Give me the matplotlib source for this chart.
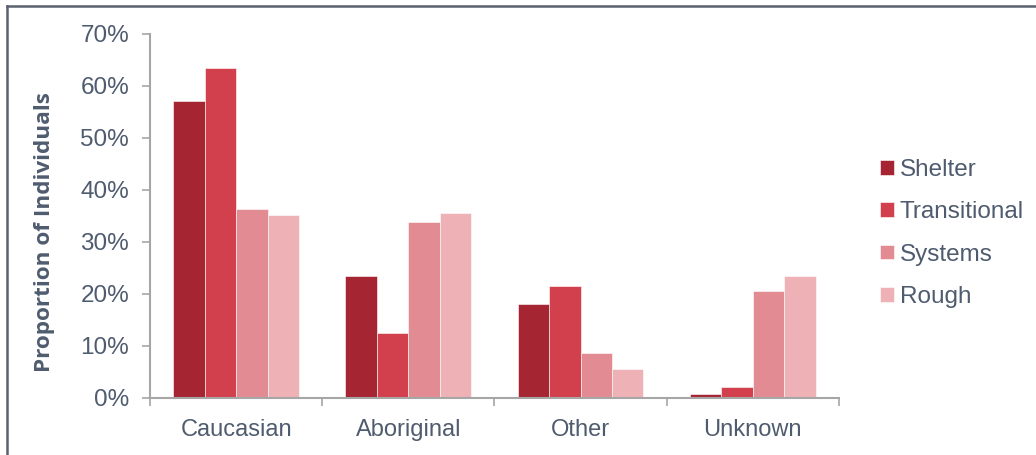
import numpy as np
import matplotlib
matplotlib.use("Agg")
import matplotlib.pyplot as plt
from matplotlib.lines import Line2D
from matplotlib.ticker import FuncFormatter

categories = ["Caucasian", "Aboriginal", "Other", "Unknown"]
series = ["Shelter", "Transitional", "Systems", "Rough"]
shelter = [57.1, 23.5, 18.0, 0.8]
transitional = [63.5, 12.4, 21.5, 2.0]
systems = [36.3, 33.9, 8.7, 20.5]
rough = [35.1, 35.6, 5.5, 23.5]
colors = ["#A52532", "#D2404D", "#E38B92", "#EDB1B6"]

text_color = "#4F5B6E"
axis_color = "#A6A6A6"

plt.rcParams["font.family"] = ["Liberation Sans", "DejaVu Sans"]

fig = plt.figure(figsize=(10.36, 4.55), dpi=100)
ax = fig.add_axes([0.1448, 0.1259, 0.8098 - 0.1448, 0.9253 - 0.1259])

x = np.arange(len(categories))
width = 0.73 / 4
values = [shelter, transitional, systems, rough]
for i, (name, vals) in enumerate(zip(series, values)):
    ax.bar(x + (i - 1.5) * width, vals, width, color=colors[i], label=name,
           edgecolor="white", linewidth=0.4)

ax.set_xlim(-0.5, 3.5)
ax.set_ylim(0, 70)
ax.set_yticks(np.arange(0, 71, 10))
ax.yaxis.set_major_formatter(FuncFormatter(lambda v, p: f"{v:.0f}%"))

# category labels in the middle, ticks at the group boundaries
ax.set_xticks(np.arange(-0.5, 3.6, 1.0))
ax.set_xticklabels([])
ax.set_xticks(x, minor=True)
ax.set_xticklabels(categories, minor=True)
ax.tick_params(axis="x", which="minor", length=0, pad=15,
               labelsize=17, labelcolor=text_color)
ax.tick_params(axis="x", which="major", length=6, width=1.2, color=axis_color,
               direction="out")
ax.tick_params(axis="y", length=6, width=1.2, color=axis_color, pad=9,
               labelsize=17.5, labelcolor=text_color)

for side in ["top", "right"]:
    ax.spines[side].set_visible(False)
for side in ["left", "bottom"]:
    ax.spines[side].set_color(axis_color)
    ax.spines[side].set_linewidth(1.5)

fig.text(0.0425, 0.491, "Proportion of Individuals", rotation=90,
         ha="center", va="center", fontsize=16.2, fontweight="bold",
         color=text_color, family=["Open Sans", "DejaVu Sans"])

fig.legend(loc="center left", bbox_to_anchor=(0.8285, 0.487), frameon=False,
           fontsize=17.5, handlelength=0.55, handleheight=0.55,
           handletextpad=0.25, labelspacing=0.84, labelcolor=text_color)

# screenshot frame (top and left edges only)
fig.add_artist(Line2D([0.0068, 1.0], [0.9879, 0.9879], color="#5A6170",
                      linewidth=1.8, transform=fig.transFigure))
fig.add_artist(Line2D([0.0068, 0.0068], [0.0, 0.9879], color="#5A6170",
                      linewidth=1.8, transform=fig.transFigure))

fig.savefig("out.png", dpi=100)
